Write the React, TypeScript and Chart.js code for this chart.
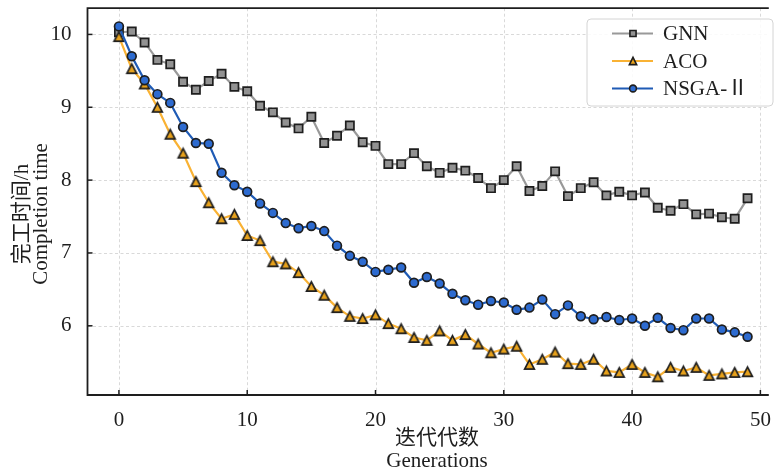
import React, { useEffect, useRef } from 'react';
import { Chart, registerables } from 'chart.js';

Chart.register(...registerables);

const generations = [
  0, 1, 2, 3, 4, 5, 6, 7, 8, 9, 10, 11, 12, 13, 14, 15, 16, 17, 18, 19, 20, 21, 22, 23, 24,
  25, 26, 27, 28, 29, 30, 31, 32, 33, 34, 35, 36, 37, 38, 39, 40, 41, 42, 43, 44, 45, 46, 47, 48, 49,
];

const gnn = [
  10.03, 10.04, 9.89, 9.65, 9.59, 9.35, 9.24, 9.36, 9.46, 9.28,
  9.22, 9.02, 8.93, 8.79, 8.71, 8.87, 8.51, 8.61, 8.75, 8.52,
  8.47, 8.22, 8.22, 8.37, 8.19, 8.1, 8.17, 8.13, 8.03, 7.89,
  8.0, 8.19, 7.85, 7.92, 8.12, 7.78, 7.89, 7.97, 7.79, 7.84,
  7.79, 7.83, 7.62, 7.58, 7.67, 7.53, 7.54, 7.49, 7.47, 7.75,
];

const aco = [
  9.97, 9.53, 9.32, 9.0, 8.63, 8.37, 7.98, 7.69, 7.47, 7.53,
  7.24, 7.17, 6.88, 6.85, 6.73, 6.54, 6.42, 6.25, 6.13, 6.1,
  6.15, 6.03, 5.96, 5.84, 5.8, 5.93, 5.8, 5.88, 5.75, 5.63,
  5.68, 5.72, 5.47, 5.54, 5.64, 5.48, 5.47, 5.54, 5.38, 5.36,
  5.47, 5.36, 5.3, 5.43, 5.38, 5.43, 5.32, 5.34, 5.36, 5.37,
];

const nsga = [
  10.11, 9.7, 9.37, 9.18, 9.06, 8.73, 8.51, 8.5, 8.1, 7.93,
  7.84, 7.68, 7.55, 7.41, 7.34, 7.37, 7.3, 7.1, 6.96, 6.88,
  6.74, 6.77, 6.8, 6.59, 6.67, 6.58, 6.44, 6.35, 6.29, 6.34,
  6.32, 6.22, 6.25, 6.36, 6.16, 6.28, 6.13, 6.09, 6.12, 6.08,
  6.1, 6.0, 6.11, 5.97, 5.94, 6.1, 6.1, 5.95, 5.91, 5.85,
];

const xTicks = [0, 10, 20, 30, 40, 50];
const yTicks = [6, 7, 8, 9, 10];
const seriesNames = ['GNN', 'ACO', 'NSGA-Ⅱ'];
const yTitleLines = ['完工时间/h', 'Completion time'];
const xTitleLines = ['迭代代数', 'Generations'];

const SERIF = '"Liberation Serif", "Noto Sans CJK SC", serif';
const EDGE = '#1e1e1e';

const GNN_LINE = '#999999';
const GNN_FILL = '#929292';
const ACO_LINE = '#f9b234';
const ACO_FILL = '#e8a21c';
const NSGA_LINE = '#1f5bb5';
const NSGA_FILL = '#2d6bd0';

function makeTriangle(fill: string, stroke: string, size: number, h: number) {
  const c = document.createElement('canvas');
  c.width = size;
  c.height = size;
  const ctx = c.getContext('2d')!;
  const m = size / 2;
  ctx.beginPath();
  ctx.moveTo(m, m - h);
  ctx.lineTo(m + h * 1.05, m + h);
  ctx.lineTo(m - h * 1.05, m + h);
  ctx.closePath();
  ctx.fillStyle = fill;
  ctx.fill();
  ctx.lineWidth = 1.7;
  ctx.strokeStyle = stroke;
  ctx.lineJoin = 'miter';
  ctx.stroke();
  return c;
}

function drawMarker(ctx: CanvasRenderingContext2D, kind: string, x: number, y: number, fill: string, scale: number) {
  ctx.save();
  ctx.fillStyle = fill;
  ctx.strokeStyle = EDGE;
  ctx.lineWidth = 1.6;
  ctx.beginPath();
  if (kind === 'rect') {
    const s = 3.6 * scale;
    ctx.rect(x - s, y - s, 2 * s, 2 * s);
  } else if (kind === 'circle') {
    ctx.arc(x, y, 4 * scale, 0, Math.PI * 2);
  } else {
    const h = 4.3 * scale;
    ctx.moveTo(x, y - h);
    ctx.lineTo(x + h, y + h);
    ctx.lineTo(x - h, y + h);
    ctx.closePath();
  }
  ctx.fill();
  ctx.stroke();
  ctx.restore();
}

const framePlugin = {
  id: 'framePlugin',
  beforeDatasetsDraw(chart: any) {
    const { ctx, chartArea } = chart;
    const xs = chart.scales.x;
    const ys = chart.scales.y;
    ctx.save();
    ctx.strokeStyle = '#cfcfcf';
    ctx.lineWidth = 0.8;
    ctx.setLineDash([3, 2.5]);
    xTicks.forEach((v) => {
      const px = Math.round(xs.getPixelForValue(v)) + 0.5;
      ctx.beginPath();
      ctx.moveTo(px, chartArea.top);
      ctx.lineTo(px, chartArea.bottom);
      ctx.stroke();
    });
    yTicks.forEach((v) => {
      const py = Math.round(ys.getPixelForValue(v)) + 0.5;
      ctx.beginPath();
      ctx.moveTo(chartArea.left, py);
      ctx.lineTo(chartArea.right, py);
      ctx.stroke();
    });
    ctx.restore();
  },
  afterDatasetsDraw(chart: any) {
    const { ctx, chartArea } = chart;
    const xs = chart.scales.x;
    const ys = chart.scales.y;
    ctx.save();
    ctx.strokeStyle = EDGE;
    ctx.lineWidth = 1.8;
    ctx.setLineDash([]);
    ctx.beginPath();
    ctx.moveTo(chartArea.right + 2, chartArea.top);
    ctx.lineTo(chartArea.left, chartArea.top);
    ctx.lineTo(chartArea.left, chartArea.bottom);
    ctx.lineTo(chartArea.right + 2, chartArea.bottom);
    ctx.stroke();
    ctx.lineWidth = 1.5;
    xTicks.forEach((v) => {
      const px = xs.getPixelForValue(v);
      ctx.beginPath();
      ctx.moveTo(px, chartArea.bottom);
      ctx.lineTo(px, chartArea.bottom - 5);
      ctx.stroke();
    });
    yTicks.forEach((v) => {
      const py = ys.getPixelForValue(v);
      ctx.beginPath();
      ctx.moveTo(chartArea.left, py);
      ctx.lineTo(chartArea.left + 5, py);
      ctx.stroke();
    });
    ctx.restore();
  },
  afterDraw(chart: any) {
    const { ctx } = chart;
    ctx.save();
    ctx.fillStyle = EDGE;
    ctx.font = `21px ${SERIF}`;
    ctx.textAlign = 'center';
    ctx.textBaseline = 'middle';
    const yCenters = [22, 41];
    yTitleLines.forEach((t, i) => {
      ctx.save();
      ctx.translate(yCenters[i], 214);
      ctx.rotate(-Math.PI / 2);
      ctx.fillText(t, 0, 0);
      ctx.restore();
    });
    const xRows = [438, 461];
    xTitleLines.forEach((t, i) => {
      ctx.fillText(t, 437, xRows[i]);
    });

    const bx = 587, by = 19, bw = 186, bh = 87;
    ctx.beginPath();
    const r = 4;
    ctx.moveTo(bx + r, by);
    ctx.lineTo(bx + bw - r, by);
    ctx.quadraticCurveTo(bx + bw, by, bx + bw, by + r);
    ctx.lineTo(bx + bw, by + bh - r);
    ctx.quadraticCurveTo(bx + bw, by + bh, bx + bw - r, by + bh);
    ctx.lineTo(bx + r, by + bh);
    ctx.quadraticCurveTo(bx, by + bh, bx, by + bh - r);
    ctx.lineTo(bx, by + r);
    ctx.quadraticCurveTo(bx, by, bx + r, by);
    ctx.closePath();
    ctx.fillStyle = 'rgba(255,255,255,0.85)';
    ctx.fill();
    ctx.strokeStyle = '#d4d4d4';
    ctx.lineWidth = 1;
    ctx.stroke();

    const rows = [33.5, 61, 88.5];
    const lineCols = [GNN_LINE, ACO_LINE, NSGA_LINE];
    const fills = [GNN_FILL, ACO_FILL, NSGA_FILL];
    const kinds = ['rect', 'tri', 'circle'];
    rows.forEach((ry, i) => {
      ctx.strokeStyle = lineCols[i];
      ctx.lineWidth = 2;
      ctx.beginPath();
      ctx.moveTo(612, ry);
      ctx.lineTo(653, ry);
      ctx.stroke();
      drawMarker(ctx, kinds[i], 633, ry, fills[i], 0.85);
      ctx.fillStyle = EDGE;
      ctx.font = `21px ${SERIF}`;
      ctx.textAlign = 'left';
      ctx.textBaseline = 'middle';
      ctx.fillText(seriesNames[i], 663, ry + 1);
    });
    ctx.restore();
  },
};

export default function App() {
  const ref = useRef<HTMLCanvasElement | null>(null);

  useEffect(() => {
    if (!ref.current) return;
    const tri = makeTriangle(ACO_FILL, EDGE, 15, 4.6);
    const toPts = (vals: number[]) => vals.map((v, i) => ({ x: generations[i], y: v }));
    const chart = new Chart(ref.current, {
      type: 'line',
      data: {
        datasets: [
          {
            label: seriesNames[0],
            data: toPts(gnn),
            borderColor: GNN_LINE,
            backgroundColor: GNN_FILL,
            borderWidth: 2.2,
            pointStyle: 'rect',
            pointRadius: 5.8,
            pointBorderColor: EDGE,
            pointBorderWidth: 1.7,
            pointBackgroundColor: GNN_FILL,
            tension: 0,
            order: 2,
          },
          {
            label: seriesNames[1],
            data: toPts(aco),
            borderColor: ACO_LINE,
            backgroundColor: ACO_FILL,
            borderWidth: 2.2,
            pointStyle: tri as any,
            pointRadius: 6,
            tension: 0,
            order: 1,
          },
          {
            label: seriesNames[2],
            data: toPts(nsga),
            borderColor: NSGA_LINE,
            backgroundColor: NSGA_FILL,
            borderWidth: 2.2,
            pointStyle: 'circle',
            pointRadius: 4.4,
            pointBorderColor: EDGE,
            pointBorderWidth: 1.7,
            pointBackgroundColor: NSGA_FILL,
            tension: 0,
            order: 0,
          },
        ],
      },
      options: {
        responsive: false,
        animation: false,
        devicePixelRatio: 1,
        layout: { padding: { top: 7.5, right: 0, bottom: 0, left: 0 } },
        plugins: {
          legend: { display: false },
          tooltip: { enabled: false },
          title: { display: false },
        },
        scales: {
          x: {
            type: 'linear',
            min: -2.45,
            max: 50.5,
            grid: { display: false },
            border: { display: false },
            afterBuildTicks: (scale: any) => {
              scale.ticks = xTicks.map((v) => ({ value: v }));
            },
            afterFit: (scale: any) => {
              scale.height = 74;
              scale.paddingLeft = 0;
              scale.paddingRight = 0;
            },
            ticks: {
              color: EDGE,
              padding: 5,
              maxRotation: 0,
              autoSkip: false,
              font: { family: SERIF, size: 21 },
            },
          },
          y: {
            type: 'linear',
            min: 5.05,
            max: 10.36,
            grid: { display: false },
            border: { display: false },
            afterBuildTicks: (scale: any) => {
              scale.ticks = yTicks.map((v) => ({ value: v }));
            },
            afterFit: (scale: any) => {
              scale.width = 87.5;
              scale.paddingTop = 0;
              scale.paddingBottom = 0;
            },
            ticks: {
              color: EDGE,
              padding: 8,
              autoSkip: false,
              font: { family: SERIF, size: 21 },
            },
          },
        },
      },
      plugins: [framePlugin],
    });
    return () => chart.destroy();
  }, []);

  return (
    <div style={{ position: 'absolute', left: 0, top: 0, width: 775, height: 469, overflow: 'hidden', background: '#fff' }}>
      <canvas ref={ref} width={775} height={469} style={{ display: 'block', width: 775, height: 469 }} />
    </div>
  );
}
